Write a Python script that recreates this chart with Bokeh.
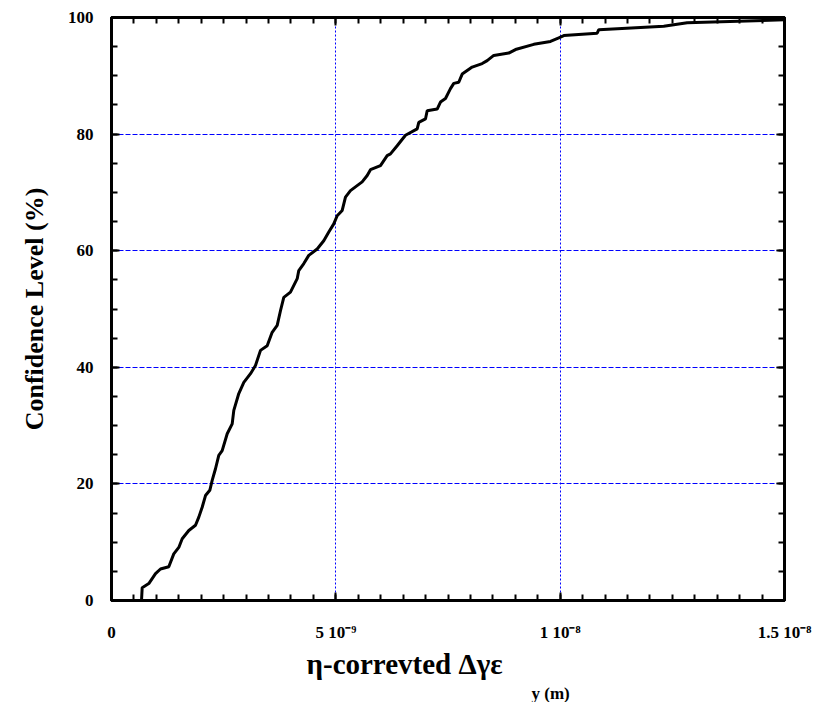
from bokeh.plotting import figure
from bokeh.models import Range1d, LinearAxis, SingleIntervalTicker, Title
from bokeh.embed import file_html
from bokeh.resources import INLINE

# eta-corrected delta gamma epsilon_y, in units of 1e-9 m
delta_eps_1e9 = [0.669, 0.684, 0.831, 0.981, 1.092, 1.277, 1.388, 1.500, 1.576, 1.723,
                 1.872, 1.946, 2.021, 2.095, 2.191, 2.244, 2.318, 2.391, 2.467, 2.579,
                 2.690, 2.726, 2.837, 2.949, 3.098, 3.209, 3.321, 3.470, 3.581, 3.693,
                 3.766, 3.840, 3.989, 4.139, 4.174, 4.286, 4.397, 4.584, 4.731, 4.843,
                 4.954, 5.030, 5.142, 5.215, 5.326, 5.587, 5.699, 5.772, 5.995, 6.144,
                 6.218, 6.367, 6.552, 6.813, 6.849, 6.998, 7.036, 7.259, 7.332, 7.444,
                 7.555, 7.629, 7.740, 7.816, 8.039, 8.262, 8.373, 8.520, 8.854, 9.004,
                 9.412, 9.784, 9.969, 10.081, 10.825, 10.861, 12.309, 12.831, 15.0]
# confidence level, %
confidence = [0.0, 2.2, 2.9, 4.6, 5.4, 5.8, 8.0, 9.1, 10.6, 12.0,
              12.9, 14.3, 16.0, 18.0, 18.9, 20.6, 22.6, 24.9, 25.7, 28.6,
              30.3, 32.6, 35.5, 37.4, 38.9, 40.3, 42.9, 43.7, 46.0, 47.2,
              49.7, 52.0, 52.9, 55.2, 56.6, 57.8, 59.2, 60.3, 61.7, 63.2,
              64.6, 66.0, 66.9, 69.2, 70.3, 71.8, 72.9, 73.9, 74.6, 76.3,
              76.6, 78.0, 79.8, 80.9, 82.0, 82.6, 84.0, 84.3, 85.5, 86.1,
              87.8, 88.7, 88.9, 90.3, 91.5, 92.1, 92.6, 93.5, 93.9, 94.5,
              95.4, 95.9, 96.5, 96.9, 97.3, 97.9, 98.5, 99.1, 99.6]

x_tick_values = [0, 5, 10, 15]
x_tick_labels = ["0", "5 10\u207b\u2079", "1 10\u207b\u2078", "1.5 10\u207b\u2078"]

FONT = "Liberation Serif"

p = figure(frame_width=673, frame_height=583, output_backend="svg", toolbar_location=None,
           x_range=Range1d(0, 15), y_range=Range1d(0, 100),
           min_border_left=111, min_border_right=39, min_border_top=17, min_border_bottom=100,
           background_fill_color="white", border_fill_color="white")

p.outline_line_color = "black"
p.outline_line_width = 3

bottom = p.xaxis[0]
left = p.yaxis[0]
bottom.ticker = SingleIntervalTicker(interval=5, num_minor_ticks=10)
left.ticker = SingleIntervalTicker(interval=20, num_minor_ticks=4)
bottom.major_label_overrides = {v: t for v, t in zip(x_tick_values, x_tick_labels)}

top = LinearAxis(ticker=SingleIntervalTicker(interval=5, num_minor_ticks=10))
right = LinearAxis(ticker=SingleIntervalTicker(interval=20, num_minor_ticks=4))
p.add_layout(top, "above")
p.add_layout(right, "right")

for ax in [bottom, left, top, right]:
    ax.axis_line_color = "black"
    ax.axis_line_width = 3
    ax.major_tick_in = 8
    ax.major_tick_out = 0
    ax.minor_tick_in = 6
    ax.minor_tick_out = 0
    ax.major_tick_line_width = 2
    ax.minor_tick_line_width = 2
    ax.major_tick_line_color = "black"
    ax.minor_tick_line_color = "black"
    ax.major_label_text_font = FONT
    ax.major_label_text_font_style = "bold"
    ax.major_label_text_font_size = "17px"
    ax.major_label_text_color = "black"

for ax in [top, right]:
    ax.major_label_text_font_size = "1px"
    ax.major_label_text_color = None
    ax.major_label_standoff = 0

bottom.major_label_standoff = 22
left.major_label_standoff = 18

left.axis_label = "Confidence Level (%)"
left.axis_label_text_font = FONT
left.axis_label_text_font_style = "bold"
left.axis_label_text_font_size = "26px"
left.axis_label_text_color = "black"
left.axis_label_standoff = 16

for g in p.xgrid:
    g.grid_line_color = "#0000ff"
    g.grid_line_alpha = 1.0
    g.grid_line_dash = "2 2"
    g.grid_line_width = 1
for g in p.ygrid:
    g.grid_line_color = "#0000ff"
    g.grid_line_alpha = 1.0
    g.grid_line_dash = "5 2"
    g.grid_line_width = 1

p.line(delta_eps_1e9, confidence, line_color="black", line_width=3)

main_title = Title(text="\u03b7-correvted \u0394\u03b3\u03b5", align="left", offset=195,
                   text_font=FONT, text_font_style="bold", text_font_size="29px",
                   text_color="black", standoff=3)
sub_title = Title(text="y (m)", align="left", offset=420,
                  text_font=FONT, text_font_style="bold", text_font_size="17px",
                  text_color="black", standoff=0)
p.add_layout(main_title, "below")
p.add_layout(sub_title, "below")

open("out.html", "w").write(file_html(p, INLINE))
